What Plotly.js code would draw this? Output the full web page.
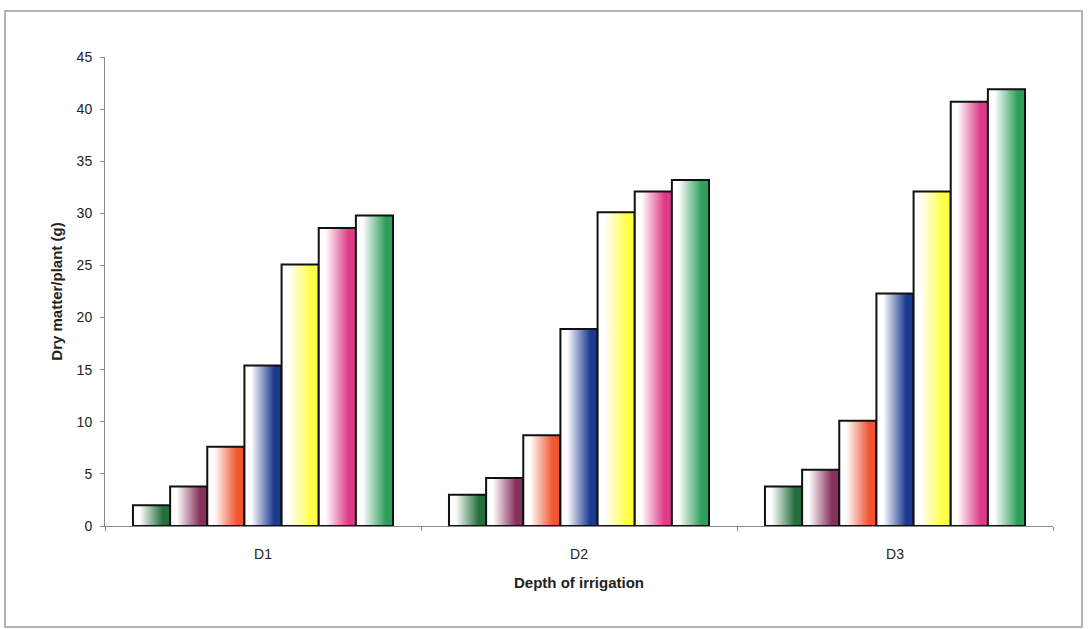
<!DOCTYPE html>
<html>
<head>
<meta charset="utf-8">
<script src="https://cdn.plot.ly/plotly-3.0.1.min.js"></script>
<style>
  html, body { margin: 0; padding: 0; background: #ffffff; }
  #chart { width: 1090px; height: 629px; }
</style>
</head>
<body>
<div id="chart"></div>
<script>
// ---- data ----
const categories = ["D1", "D2", "D3"];
const seriesNames = ["T1", "T2", "T3", "T4", "T5", "T6", "T7"];
const s1 = [2.0, 3.0, 3.8];
const s2 = [3.8, 4.6, 5.4];
const s3 = [7.6, 8.7, 10.1];
const s4 = [15.4, 18.9, 22.3];
const s5 = [25.1, 30.1, 32.1];
const s6 = [28.6, 32.1, 40.7];
const s7 = [29.8, 33.2, 41.9];
const seriesValues = [s1, s2, s3, s4, s5, s6, s7];
const yTickVals = [0, 5, 10, 15, 20, 25, 30, 35, 40, 45];

// ---- styles ----
const barColors = ["#246f3e", "#86305c", "#ee5530", "#1b3a8e", "#ffff45", "#df3a88", "#2f9e5c"];
const font = "Liberation Sans, Arial, sans-serif";

const traces = seriesValues.map((vals, i) => ({
  type: "bar",
  name: seriesNames[i],
  x: categories,
  y: vals,
  showlegend: false,
  marker: { color: barColors[i], line: { color: "#111111", width: 2 } },
  hoverinfo: "skip"
}));

// plot area: x 105..1053, y 57..526
const L = 105, R = 1053, T = 57, B = 526;
const W = R - L, H = B - T;
const px = v => (v - L) / W;
const py = v => (B - v) / H;

const layout = {
  width: 1090,
  height: 629,
  margin: { l: L, r: 1090 - R, t: T, b: 629 - B, pad: 0 },
  paper_bgcolor: "#ffffff",
  plot_bgcolor: "#ffffff",
  barmode: "group",
  bargap: 0.177,
  bargroupgap: 0,
  font: { family: font, size: 14, color: "#222222" },
  xaxis: {
    type: "category",
    tickson: "boundaries",
    ticks: "outside",
    ticklen: 4,
    tickcolor: "#888888",
    showline: true,
    linecolor: "#888888",
    linewidth: 1,
    showgrid: false,
    zeroline: false,
    ticklabelstandoff: 15,
    tickfont: { family: font, size: 14, color: "#222222" },
    title: { text: "<b>Depth of irrigation</b>", font: { family: font, size: 15, color: "#222222" }, standoff: 16 }
  },
  yaxis: {
    range: [0, 45],
    tickvals: yTickVals,
    ticktext: yTickVals.map(String),
    ticks: "outside",
    ticklen: 4,
    tickcolor: "#888888",
    showline: true,
    linecolor: "#888888",
    linewidth: 1,
    showgrid: false,
    zeroline: false,
    ticklabelstandoff: 5,
    tickfont: { family: font, size: 14, color: "#222222" },
    title: { text: "<b>Dry matter/plant (g)</b>", font: { family: font, size: 15, color: "#222222" }, standoff: 10 }
  },
  shapes: [{
    type: "rect", xref: "paper", yref: "paper",
    x0: px(5), x1: px(1082), y0: py(627), y1: py(11),
    line: { color: "#9a9a9a", width: 1.5 }, fillcolor: "rgba(0,0,0,0)", layer: "below"
  }]
};

function applyGradients(gd) {
  const svg = gd.querySelector("svg.main-svg");
  let defs = svg.querySelector("defs");
  if (!defs) { defs = document.createElementNS("http://www.w3.org/2000/svg", "defs"); svg.insertBefore(defs, svg.firstChild); }
  barColors.forEach((c, i) => {
    const g = document.createElementNS("http://www.w3.org/2000/svg", "linearGradient");
    g.setAttribute("id", "barGrad" + i);
    g.setAttribute("x1", "0"); g.setAttribute("y1", "0");
    g.setAttribute("x2", "1"); g.setAttribute("y2", "0");
    const stops = [[0, "#ffffff"], [0.18, "#ffffff"], [0.8, c], [1, c]];
    stops.forEach(([o, col]) => {
      const s = document.createElementNS("http://www.w3.org/2000/svg", "stop");
      s.setAttribute("offset", o);
      s.setAttribute("stop-color", col);
      g.appendChild(s);
    });
    defs.appendChild(g);
  });
  const traceGroups = gd.querySelectorAll("g.trace.bars");
  traceGroups.forEach((tg, i) => {
    tg.querySelectorAll("g.point path").forEach(p => { p.style.fill = "url(#barGrad" + i + ")"; });
  });
}

Plotly.newPlot("chart", traces, layout, { staticPlot: true, displayModeBar: false })
  .then(gd => applyGradients(gd));
</script>
</body>
</html>
